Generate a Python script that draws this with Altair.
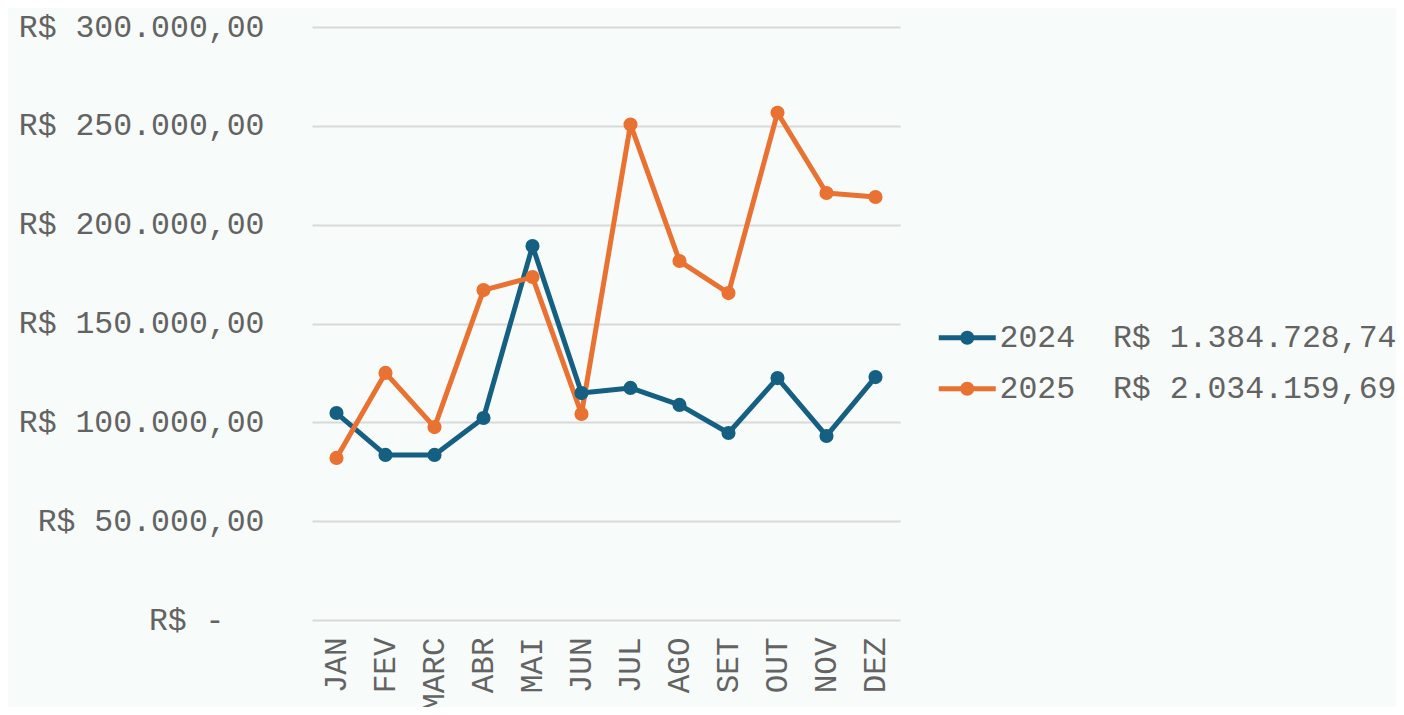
import altair as alt
import pandas as pd

months = ["JAN", "FEV", "MARC", "ABR", "MAI", "JUN", "JUL", "AGO", "SET", "OUT", "NOV", "DEZ"]
values_2024 = [104700, 83500, 83500, 102200, 189200, 114800, 117400, 108800, 94600, 122400, 93100, 122900]
values_2025 = [82000, 125000, 97600, 166900, 173500, 104200, 250700, 181600, 165400, 256600, 216000, 214000]
series_names = ["2024", "2025"]
series_totals = ["R$ 1.384.728,74", "R$ 2.034.159,69"]
series_colors = ["#156082", "#E97132"]
y_tick_values = [0, 50000, 100000, 150000, 200000, 250000, 300000]
y_tick_labels = ["R$ -", "R$ 50.000,00", "R$ 100.000,00", "R$ 150.000,00",
                 "R$ 200.000,00", "R$ 250.000,00", "R$ 300.000,00"]

rows = []
for name, vals in zip(series_names, [values_2024, values_2025]):
    for m, v in zip(months, vals):
        rows.append({"month": m, "series": name, "value": v})
df = pd.DataFrame(rows)

def label_expr(keys, labels, field):
    expr = "''"
    for k, l in reversed(list(zip(keys, labels))):
        expr = f"{field} == {k!r} ? {l!r} : ({expr})"
    return expr

y_label_expr = label_expr(y_tick_values, y_tick_labels, "datum.value")
legend_labels = [f"{n}\u00a0\u00a0{t}" for n, t in zip(series_names, series_totals)]
legend_label_expr = label_expr(series_names, legend_labels, "datum.value")

FONT = "Liberation Mono"
TEXT = "#636363"

symbol_path = ("M-2.8,-0.167 L1,-0.167 L1,0.167 L-2.8,0.167 Z "
               "M-0.433,0 A0.467,0.467 0 1 1 -1.367,0 A0.467,0.467 0 1 1 -0.433,0 Z")

legend = alt.Legend(
    title=None, orient="none", legendX=653, legendY=295,
    symbolType=symbol_path, symbolSize=900, symbolStrokeWidth=0, symbolOpacity=1,
    labelExpr=legend_label_expr, labelFont=FONT, labelFontSize=31.5,
    labelColor=TEXT, labelLimit=800, labelOffset=3, rowPadding=18,
)

x_enc = alt.X("month:N", sort=months, title=None,
              axis=alt.Axis(labelAngle=270, labelFont=FONT, labelFontSize=31, labelColor=TEXT,
                            domain=False, ticks=False, grid=False, labelPadding=17))
y_enc = alt.Y("value:Q", title=None,
              scale=alt.Scale(domain=[0, 300000], nice=False, zero=True),
              axis=alt.Axis(values=y_tick_values, labelExpr=y_label_expr, labelFont=FONT,
                            labelFontSize=31.5, labelColor=TEXT, domain=False, ticks=False,
                            grid=True, gridColor="#d9d9d9", gridWidth=2,
                            labelPadding={"condition": {"test": "datum.value == 0", "value": 88},
                                          "value": 48},
                            labelLimit=400))
scale = alt.Scale(domain=series_names, range=series_colors)

lines = alt.Chart(df).mark_line(strokeWidth=5, strokeJoin="round", strokeCap="round").encode(
    x=x_enc, y=y_enc, color=alt.Color("series:N", scale=scale, legend=legend),
)
points = alt.Chart(df).mark_point(filled=True, size=200, opacity=1, shape="circle").encode(
    x=x_enc, y=y_enc, color=alt.Color("series:N", scale=scale, legend=legend),
)

chart = alt.layer(lines, points).properties(
    width=588, height=593,
    autosize=alt.AutoSizeParams(type="none"),
    padding={"left": 304, "top": 19, "right": 496, "bottom": 87},
    background="#f7fbf9",
).configure_view(stroke=None)

chart.save("out.html", embed_options={"renderer": "svg", "actions": False})
